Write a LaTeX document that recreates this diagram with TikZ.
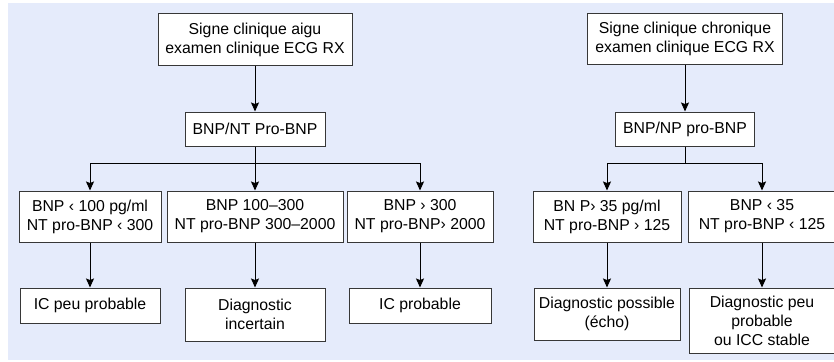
\documentclass[tikz,border=0pt]{standalone}
\usepackage{fontspec}
\setmainfont{Liberation Sans}
\usepackage{tikz}
\usetikzlibrary{arrows.meta,positioning}
\definecolor{bgblue}{RGB}{229,235,251}
\definecolor{boxline}{RGB}{55,55,55}
\newcommand\branchy{163}
\tikzset{flowbox/.style={rectangle, draw=boxline, fill=white, line width=1pt, inner sep=0pt, align=center, font=\fontsize{15.8}{19}\selectfont}}
\tikzset{flowarrow/.style={line width=1pt, -{Stealth[length=9pt, width=8pt, inset=1.5pt]}}}
\tikzset{flowline/.style={line width=1pt}}

\begin{document}
\begin{tikzpicture}[x=1pt, y=-1pt]
\useasboundingbox (0,0) rectangle (834,361);
\clip (0,0) rectangle (834,361);
\fill[bgblue] (8,3) rectangle (834,360);
% signe aigu
\node[flowbox, minimum width=194, minimum height=51] (aigu) at (255,39.5) {Signe clinique aigu\\examen clinique ECG RX};
\node[flowbox, minimum width=140, minimum height=34] (bnpaigu) at (255,129) {BNP/NT Pro-BNP};
\node[flowbox, minimum width=142, minimum height=51] (conda) at (90,216.5) {BNP ‹ 100 pg/ml\\NT pro-BNP ‹ 300};
\node[flowbox, minimum width=176, minimum height=51] (condb) at (255,216.5) {BNP 100–300\\NT pro-BNP 300–2000};
\node[flowbox, minimum width=146, minimum height=51] (condc) at (420,216.5) {BNP › 300\\NT pro-BNP› 2000};
\node[flowbox, minimum width=140, minimum height=35] (resa) at (90,305.5) {IC peu probable};
\node[flowbox, minimum width=140, minimum height=53] (resb) at (255,314.5) {Diagnostic\\incertain};
\node[flowbox, minimum width=142, minimum height=35] (resc) at (420,305.5) {IC probable};
% signe chronique
\node[flowbox, minimum width=195, minimum height=50] (chron) at (685,39) {Signe clinique chronique\\examen clinique ECG RX};
\node[flowbox, minimum width=139, minimum height=34] (bnpchron) at (685,129) {BNP/NP pro-BNP};
\node[flowbox, minimum width=148, minimum height=51] (condd) at (607,216.5) {BN P› 35 pg/ml\\NT pro-BNP › 125};
\node[flowbox, minimum width=148, minimum height=51] (conde) at (762,216.5) {BNP ‹ 35\\NT pro-BNP ‹ 125};
\node[flowbox, minimum width=146, minimum height=52] (resd) at (607,314) {Diagnostic possible\\(écho)};
\node[flowbox, minimum width=146, minimum height=65] (rese) at (762,320.5) {Diagnostic peu\\probable\\ou ICC stable};
\coordinate (splitaigu) at (255,\branchy);
\coordinate (splitchron) at (685,\branchy);
\draw[flowarrow] (aigu) -- (bnpaigu);
\draw[flowarrow] (chron) -- (bnpchron);
\draw[flowline] (bnpaigu.south) -- (splitaigu);
\draw[flowline] (bnpchron.south) -- (splitchron);
\draw[flowarrow] (splitaigu) -| (conda.north);
\draw[flowarrow] (splitaigu) -- (condb.north);
\draw[flowarrow] (splitaigu) -| (condc.north);
\draw[flowarrow] (splitchron) -| (condd.north);
\draw[flowarrow] (splitchron) -| (conde.north);
\foreach \i in {a,b,c,d,e} {
	\draw[flowarrow] (cond\i.south) -- (res\i.north);
}
\end{tikzpicture}
\end{document}
